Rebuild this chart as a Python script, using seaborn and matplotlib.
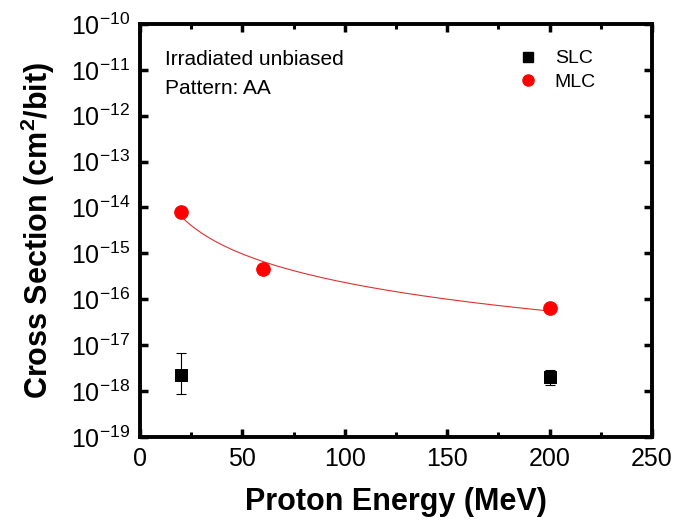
"""
Сечение от энергии протонов: SLC и MLC
"""

import numpy as np
import pandas as pd
import matplotlib
matplotlib.use('Agg')
import matplotlib.pyplot as plt
import seaborn as sns
from matplotlib.ticker import MultipleLocator, FixedLocator
from matplotlib.lines import Line2D

# данные
energy_slc = [20, 200]
sigma_slc = [2.2e-18, 2.0e-18]
err_lo_slc = [8.5e-19, 1.35e-18]
err_hi_slc = [6.9e-18, 2.9e-18]

energy_mlc = [20, 60, 200]
sigma_mlc = [7.8e-15, 4.6e-16, 6.6e-17]

sns.set_theme(style='ticks', rc={
    'axes.edgecolor': 'black', 'xtick.color': 'black', 'ytick.color': 'black',
    'text.color': 'black', 'axes.labelcolor': 'black',
})
plt.rcParams['font.family'] = ['Liberation Sans', 'DejaVu Sans']
plt.rcParams['mathtext.fontset'] = 'custom'
plt.rcParams['mathtext.rm'] = 'Liberation Sans'
plt.rcParams['mathtext.bf'] = 'Liberation Sans:bold'

fig = plt.figure(figsize=(6.83, 5.27), dpi=100)
ax = fig.add_axes([0.205, 0.171, 0.7496, 0.7835])

# степенная аппроксимация для MLC
b, a = np.polyfit(np.log10(energy_mlc), np.log10(sigma_mlc), 1)
fit_x = np.linspace(20, 200, 200)
fit = pd.DataFrame({'E': fit_x, 'sigma': 10 ** (a + b * np.log10(fit_x))})
sns.lineplot(data=fit, x='E', y='sigma', color='#e03030', lw=0.8, ax=ax)

slc = pd.DataFrame({'E': energy_slc, 'sigma': sigma_slc})
mlc = pd.DataFrame({'E': energy_mlc, 'sigma': sigma_mlc})

yerr = [np.array(sigma_slc) - np.array(err_lo_slc), np.array(err_hi_slc) - np.array(sigma_slc)]
ax.errorbar(energy_slc, sigma_slc, yerr=yerr, fmt='none', ecolor='black',
            elinewidth=0.8, capsize=3.3, capthick=0.8, zorder=3)
sns.scatterplot(data=slc, x='E', y='sigma', marker='s', s=80, color='black',
                edgecolor='black', ax=ax, zorder=4)
sns.scatterplot(data=mlc, x='E', y='sigma', marker='o', s=95, color='#ff0000',
                edgecolor='#ff0000', ax=ax, zorder=4)

ax.set_yscale('log')
ax.set_xlim(0, 250)
ax.set_ylim(1e-19, 1e-10)
ax.xaxis.set_major_locator(MultipleLocator(50))
ax.xaxis.set_minor_locator(MultipleLocator(25))
ax.yaxis.set_major_locator(FixedLocator([10.0 ** k for k in range(-19, -9)]))
ax.yaxis.set_minor_locator(FixedLocator([]))
ax.set_yticklabels([r'$10^{%d}$' % k for k in range(-19, -9)])

for sp in ax.spines.values():
    sp.set_linewidth(2.8)
    sp.set_visible(True)
ax.tick_params(which='major', direction='in', length=6, width=2.5,
               top=True, right=True, labelsize=18, pad=7)
ax.tick_params(which='minor', direction='in', length=3.5, width=2.2,
               top=True, right=True)

ax.set_xlabel('Proton Energy (MeV)', fontsize=22, fontweight='bold', labelpad=12)
ax.set_ylabel(r'Cross Section (cm$^\mathbf{2}$/bit)', fontsize=22,
              fontweight='bold', labelpad=10)

ax.text(0.049, 0.915, 'Irradiated unbiased', transform=ax.transAxes,
        fontsize=15, va='center', ha='left')
ax.text(0.049, 0.843, 'Pattern: AA', transform=ax.transAxes,
        fontsize=15, va='center', ha='left')

handles = [
    Line2D([], [], ls='none', marker='s', ms=6.5, color='black'),
    Line2D([], [], ls='none', marker='o', ms=8, color='#ff0000'),
]
ax.legend(handles, ['SLC', 'MLC'], loc='upper left', bbox_to_anchor=(0.7, 0.98),
          frameon=False, fontsize=14, handletextpad=0.8, labelspacing=0.3,
          handlelength=1.2)

fig.savefig('out.png', dpi=100)
plt.close(fig)
